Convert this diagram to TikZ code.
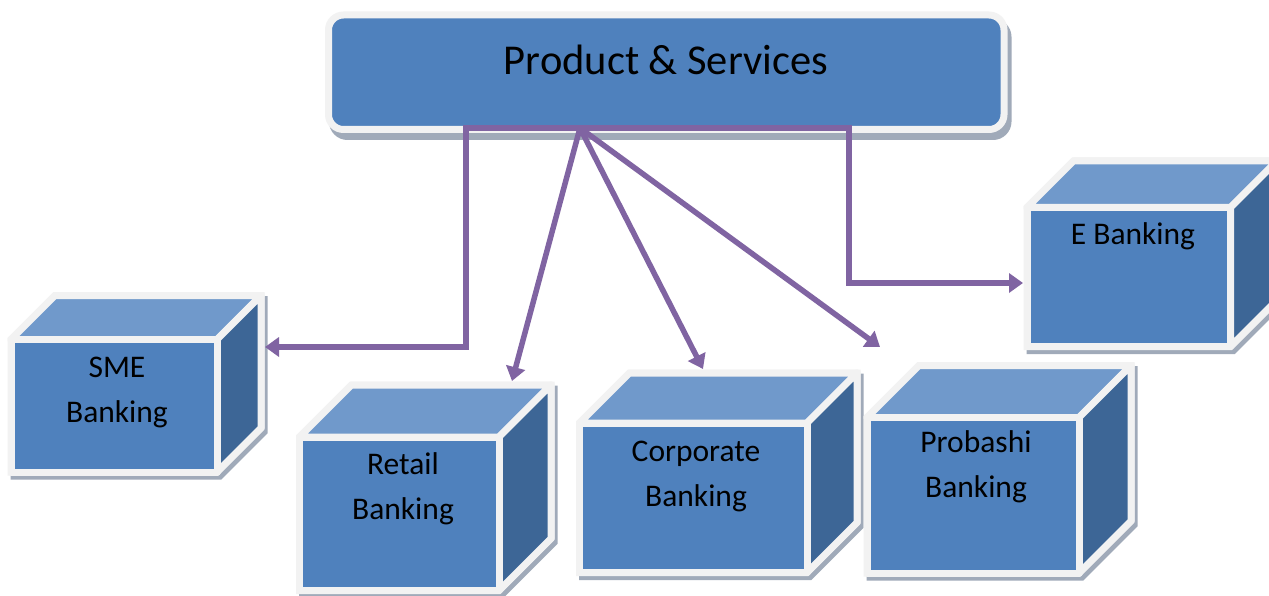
\documentclass[tikz,border=0pt]{standalone}
\usepackage{fontspec}
\setmainfont{Carlito}
\usetikzlibrary{arrows.meta}
\definecolor{frontc}{HTML}{4F81BD}
\definecolor{topc}{HTML}{7099CB}
\definecolor{sidec}{HTML}{3D6696}
\definecolor{rimc}{HTML}{F2F2F2}
\definecolor{shadc}{RGB}{160,170,185}
\definecolor{linkc}{HTML}{8064A2}
\tikzset{
 rim/.style={draw=rimc, line width=7pt},
 face/.style={rim, line join=round},
 frontface/.style={face, fill=frontc, inner sep=0pt, outer sep=0pt},
 topface/.style={face, fill=topc},
 sideface/.style={face, fill=sidec},
 cubeshadow/.style={fill=shadc, draw=shadc, line width=7pt},
 cubetext/.style={font=\fontsize{31.5}{45}\selectfont, align=center, inner sep=0pt},
 linkline/.style={draw=linkc, line width=5.5pt},
 arr/.style={linkline, -{Triangle[length=14pt,width=19pt]}},
}
\newcommand\bankcube[6]{%
 \begin{scope}[shift={(#2,#3)}]
  \filldraw[cubeshadow] (3,4) -- ++(#6,-#6) -- ++(#4,0) -- ++(0,#5) -- ++(-#6,#6) -- ++(-#4,0) -- cycle;
  \filldraw[rim, fill=rimc] (0,0) -- (#6,-#6) -- ({#4+#6},-#6) -- ({#4+#6},{#5-#6}) -- (#4,#5) -- (0,#5) -- cycle;
  \filldraw[topface] (0,0) -- (#6,-#6) -- ({#4+#6},-#6) -- (#4,0) -- cycle;
  \filldraw[sideface] (#4,0) -- ({#4+#6},-#6) -- ({#4+#6},{#5-#6}) -- (#4,#5) -- cycle;
  \node[frontface, minimum width=#4pt, minimum height=#5pt] (#1) at ({#4/2},{#5/2}) {};
 \end{scope}
}
\begin{document}
\begin{tikzpicture}[x=1pt,y=-1pt]
\clip (0,0) rectangle (1269,596);
\fill[white] (0,0) rectangle (1269,596);
% title box
\filldraw[fill=shadc, draw=shadc, line width=7pt, rounded corners=15pt] (332.5,22) rectangle (1008,136.5);
\node[draw=rimc, line width=7pt, fill=frontc, rounded corners=15pt, minimum width=675.5pt, minimum height=114.5pt, inner sep=0pt, outer sep=0pt] (ps) at (666.25,72.25) {};
\node[font=\fontsize{42.5}{50}\selectfont, anchor=base, inner sep=0pt] (ps-t) at (666,75) {Product \& Services};
% cubes
\bankcube{sme}{11}{339.5}{206}{132.5}{44}
\bankcube{ret}{299.5}{437}{199.5}{153.5}{52}
\bankcube{cor}{579.5}{423}{227.5}{149.5}{50}
\bankcube{pro}{867}{417.5}{212}{155.5}{52}
\bankcube{eb}{1027}{207.5}{203.5}{139}{46.5}
\node[cubetext] (sme-t) at (117,392) {SME\\Banking};
\node[cubetext] (ret-t) at (403,489) {Retail\\Banking};
\node[cubetext] (cor-t) at (696,476) {Corporate\\Banking};
\node[cubetext] (pro-t) at (976,467) {Probashi\\Banking};
\node[cubetext] (eb-t) at (1133,236) {E Banking};
% connectors
\coordinate (hubL) at (466,128);
\coordinate (hub) at (580,128);
\coordinate (hubR) at (849,128);
\coordinate (sme-in) at (265,347);
\coordinate (eb-in) at (1023,283);
\coordinate (ret-in) at (512,381);
\coordinate (cor-in) at (703,369);
\coordinate (pro-in) at (880,347);
\draw[arr] (hubR) -- (hubL) |- (sme-in);
\draw[arr] (hubL) -- (hubR) |- (eb-in);
\draw[arr] (hub) -- (ret-in);
\draw[arr] (hub) -- (cor-in);
\draw[arr] (hub) -- (pro-in);
\end{tikzpicture}
\end{document}
